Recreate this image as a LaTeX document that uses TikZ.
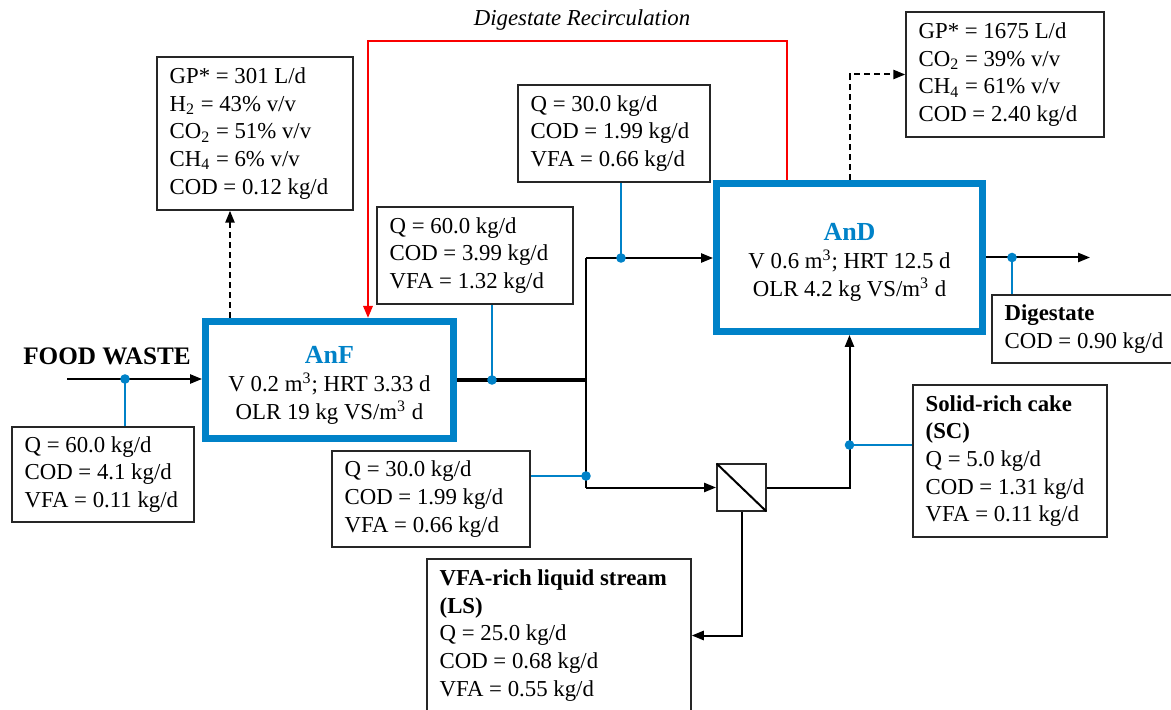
\documentclass[tikz,border=0pt]{standalone}
\usepackage{fontspec}
\setmainfont{Liberation Serif}
\usetikzlibrary{arrows.meta,fit}
\definecolor{rblue}{RGB}{0,130,200}
\definecolor{rred}{RGB}{250,0,0}
\newcommand\bxfont{\fontsize{11.4pt}{13.8pt}\selectfont}
\newcommand\rxfont{\fontsize{11.4pt}{14pt}\selectfont}
\newcommand\ibox[6]{%
  \coordinate (#1nw) at (#2,#3);
  \coordinate (#1se) at (#4,#5);
  \node[frame, fit=(#1nw)(#1se)] (#1) {};
  \node[txt] (#1t) at ([xshift=6.5pt]#1.west) {#6};}
\begin{document}
\begin{tikzpicture}[x=0.5pt,y=-0.5pt,
 frame/.style={draw=black!85, line width=0.75pt, inner sep=0pt},
 txt/.style={anchor=west, align=left, inner sep=0pt, font=\bxfont},
 reactor/.style={draw=rblue, line width=3.5pt, inner sep=0pt},
 rtxt/.style={align=center, inner sep=0pt, font=\rxfont},
 flow/.style={line width=1pt, -{Triangle[length=6pt,width=4.6pt]}},
 gas/.style={flow, dash pattern=on 3pt off 2pt},
 tap/.style={rblue, line width=1pt},
 dot/.style={circle, fill=rblue, inner sep=0pt, minimum size=4.8pt},
 recirc/.style={rred, line width=1.2pt, -{Triangle[length=6pt,width=4.6pt]}},
 main/.style={line width=1.6pt},
 plain/.style={line width=1pt},
]
\useasboundingbox (0,0) rectangle (1171,710);
\clip (0,0) rectangle (1171,710);

% info boxes
\ibox{feed}{12}{427}{194}{522}{Q = 60.0 kg/d\\COD = 4.1 kg/d\\VFA = 0.11 kg/d}
\ibox{gasF}{157}{57}{353}{210}{GP* = 301 L/d\\H\textsubscript{2} = 43\% v/v\\CO\textsubscript{2} = 51\% v/v\\CH\textsubscript{4} = 6\% v/v\\COD = 0.12 kg/d}
\ibox{boxA}{377}{207}{573}{304}{Q = 60.0 kg/d\\COD = 3.99 kg/d\\VFA = 1.32 kg/d}
\ibox{boxB}{518}{85}{710}{182}{Q = 30.0 kg/d\\COD = 1.99 kg/d\\VFA = 0.66 kg/d}
\ibox{boxC}{332}{451}{530}{547}{Q = 30.0 kg/d\\COD = 1.99 kg/d\\VFA = 0.66 kg/d}
\ibox{LS}{427}{559}{691}{712}{\textbf{VFA-rich liquid stream}\\\textbf{(LS)}\\Q = 25.0 kg/d\\COD = 0.68 kg/d\\VFA = 0.55 kg/d}
\ibox{SC}{913}{385}{1107}{537}{\textbf{Solid-rich cake}\\\textbf{(SC)}\\Q = 5.0 kg/d\\COD = 1.31 kg/d\\VFA = 0.11 kg/d}
\ibox{gasD}{906}{12}{1104}{137}{GP* = 1675 L/d\\CO\textsubscript{2} = 39\% v/v\\CH\textsubscript{4} = 61\% v/v\\COD = 2.40 kg/d}
\ibox{dig}{992}{295}{1190}{363}{\textbf{Digestate}\\COD = 0.90 kg/d}

% reactors
\coordinate (AnFnw) at (205.5,321.5);
\coordinate (AnFse) at (453.5,438.5);
\node[reactor, fit=(AnFnw)(AnFse)] (AnF) {};
\node[rtxt] (AnFt) at ([yshift=-2.5pt]AnF.center)
  {{\fontsize{13pt}{14pt}\selectfont\bfseries\color{rblue}AnF}\\V 0.2 m\textsuperscript{3}; HRT 3.33 d\\OLR 19 kg VS/m\textsuperscript{3} d};
\coordinate (AnDnw) at (716.5,183.5);
\coordinate (AnDse) at (982.5,331.5);
\node[reactor, fit=(AnDnw)(AnDse)] (AnD) {};
\node[rtxt] (AnDt) at ([yshift=-2.5pt]AnD.center)
  {{\fontsize{13pt}{14pt}\selectfont\bfseries\color{rblue}AnD}\\V 0.6 m\textsuperscript{3}; HRT 12.5 d\\OLR 4.2 kg VS/m\textsuperscript{3} d};

% membrane
\node[frame, line width=1pt, minimum width=24.5pt, minimum height=23.5pt] (mem) at (741.5,487.5) {};
\draw[line width=1pt, shorten <=0.5pt, shorten >=0.5pt] (mem.north west) -- (mem.south east);

% labels
\node[font=\fontsize{12.6pt}{15pt}\selectfont\bfseries, inner sep=0pt] (fw) at (107,356) {FOOD WASTE};
\node[font=\bxfont\itshape, inner sep=0pt] (rlab) at (582,20) {Digestate Recirculation};

% coordinates
\coordinate (fin) at (67,379);
\coordinate (c0) at (125,379);
\coordinate (gx) at (230,0);
\coordinate (r1) at (368,41);
\coordinate (r2) at (787,41);
\coordinate (j1) at (586,380);
\coordinate (j2) at (586,258);
\coordinate (j3) at (586,487.5);
\coordinate (c1) at (492,380);
\coordinate (c2) at (621,258);
\coordinate (c3) at (586,476);
\coordinate (c4) at (849.5,445);
\coordinate (c5) at (1012,257.5);
\coordinate (dout) at (1090,0);

% feed
\draw[flow] (fin) -- (AnF.west |- fin);
\draw[tap] (c0) -- (c0 |- feed.north);
% gas from AnF
\draw[gas] (AnF.north -| gx) -- (gasF.south -| gx);
% recirculation
\draw[recirc] (AnD.north -| r2) -- (r2) -- (r1) -- (AnF.north -| r1);
% AnF effluent
\draw[main] (AnF.east) -- (j1);
\draw[plain] (j2) -- (j3);
\draw[flow] (j2) -- (AnD.west |- j2);
\draw[flow] (j3) -- (mem.west);
\draw[tap] (c1) -- (c1 |- boxA.south);
\draw[tap] (c2) -- (c2 |- boxB.south);
\draw[tap] (c3) -- (c3 -| boxC.east);
% membrane outputs
\draw[flow] (mem.south) |- (LS.east);
\draw[flow] (mem.east) -| (AnD.south);
\draw[tap] (c4) -- (c4 -| SC.west);
% AnD outputs
\draw[flow] (AnD.east) -- (AnD.east -| dout);
\draw[tap] (c5) -- (c5 |- dig.north);
\draw[gas] (AnD.north) |- (gasD.west);

% dots
\node[dot] (d0) at (c0) {};
\node[dot] (d1) at (c1) {};
\node[dot] (d2) at (c2) {};
\node[dot] (d3) at (c3) {};
\node[dot] (d4) at (c4) {};
\node[dot] (d5) at (c5) {};
\end{tikzpicture}
\end{document}
